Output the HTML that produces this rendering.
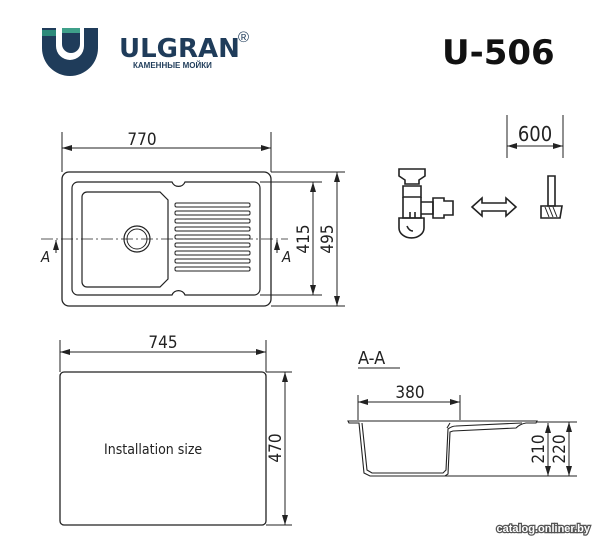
<!DOCTYPE html>
<html><head><meta charset="utf-8"><style>
html,body{margin:0;padding:0;background:#fff;}
svg{display:block;}
text{font-family:"DejaVu Sans Condensed","DejaVu Sans","Liberation Sans",sans-serif;fill:#222;}
</style></head><body>
<svg width="611" height="550" viewBox="0 0 611 550" xmlns="http://www.w3.org/2000/svg">
<defs>
<marker id="ar" viewBox="0 0 10 6" refX="10" refY="3" markerWidth="10" markerHeight="6" orient="auto-start-reverse" markerUnits="userSpaceOnUse">
<path d="M0,0 L10,3 L0,6 z" fill="#222"/></marker>
</defs>
<!-- Logo -->
<path d="M42,28 h14 v18 a14,14 0 0 0 28,0 v-18 h14 v20 a28,28 0 0 1 -56,0z" fill="#1f3c5a"/>
<path d="M42,30 h14 v6 h-14z" fill="#2d8a7a"/>
<path d="M62,28 h18 v16 a9,9 0 0 1 -18,0z" fill="#1f3c5a"/>
<path d="M62,28 h18 v5 h-18z" fill="#3fa08a"/>
<text x="119" y="57" style="font-family:'DejaVu Sans','Liberation Sans',sans-serif;font-weight:bold;font-size:26px;fill:#1f3c5a">ULGRAN</text>
<text x="238" y="42" style="font-family:'Liberation Sans',sans-serif;font-size:15px;fill:#1f3c5a">®</text>
<text x="133" y="68" style="font-family:'Liberation Sans',sans-serif;font-weight:bold;font-size:8px;fill:#1f3c5a">КАМЕННЫЕ МОЙКИ</text>
<text x="442" y="64" style="font-family:'DejaVu Sans','Liberation Sans',sans-serif;font-weight:bold;font-size:34px;fill:#111">U-506</text>

<g fill="none" stroke="#222" stroke-width="1">
<!-- top sink -->
<line x1="62" y1="132" x2="62" y2="172"/><line x1="271" y1="132" x2="271" y2="172"/>
<line x1="62" y1="148" x2="271" y2="148" marker-start="url(#ar)" marker-end="url(#ar)"/>
<rect x="62" y="172" width="209" height="134" rx="7" stroke-width="1.3"/>
<path d="M78,182 H172 A7,7 0 0 0 185,182 H254 A6,6 0 0 1 260,188 V289 A6,6 0 0 1 254,295 H185 A7,7 0 0 0 172,295 H78 A6,6 0 0 1 72,289 V188 A6,6 0 0 1 78,182 Z" stroke-width="1.2"/>
<path d="M87,192 H160 L168,200 V279 L160,287 H87 A5,5 0 0 1 82,282 V197 A5,5 0 0 1 87,192 Z" stroke-width="1.2"/>
<circle cx="137" cy="239" r="13" stroke-width="1.2"/><circle cx="137" cy="239" r="10"/>
<g stroke-width="1">
<rect x="175" y="203" width="75" height="4" rx="1.5"/><rect x="175" y="211" width="75" height="4" rx="1.5"/>
<rect x="175" y="219" width="75" height="4" rx="1.5"/><rect x="175" y="227" width="75" height="4" rx="1.5"/>
<rect x="175" y="235" width="75" height="4" rx="1.5"/><rect x="175" y="243" width="75" height="4" rx="1.5"/>
<rect x="175" y="251" width="75" height="4" rx="1.5"/><rect x="175" y="259" width="75" height="4" rx="1.5"/>
<rect x="175" y="267" width="75" height="4" rx="1.5"/>
</g>
<line x1="41" y1="239" x2="288" y2="239" stroke-dasharray="12,3,2,3" stroke-width="0.8"/>
<line x1="56" y1="253" x2="56" y2="240" marker-end="url(#ar)"/>
<line x1="277" y1="253" x2="277" y2="240" marker-end="url(#ar)"/>
<line x1="260" y1="182" x2="322" y2="182"/><line x1="260" y1="295" x2="322" y2="295"/>
<line x1="313" y1="182" x2="313" y2="295" marker-start="url(#ar)" marker-end="url(#ar)"/>
<line x1="271" y1="172" x2="345" y2="172"/><line x1="271" y1="306" x2="345" y2="306"/>
<line x1="337" y1="172" x2="337" y2="306" marker-start="url(#ar)" marker-end="url(#ar)"/>
<!-- bottom left -->
<line x1="60" y1="340" x2="60" y2="372"/><line x1="266" y1="340" x2="266" y2="372"/>
<line x1="60" y1="352" x2="266" y2="352" marker-start="url(#ar)" marker-end="url(#ar)"/>
<rect x="60" y="372" width="206" height="153" rx="4" stroke-width="1.3"/>
<line x1="266" y1="372" x2="292" y2="372"/><line x1="266" y1="525" x2="292" y2="525"/>
<line x1="285" y1="372" x2="285" y2="525" marker-start="url(#ar)" marker-end="url(#ar)"/>
<!-- 600 -->
<line x1="507" y1="115" x2="507" y2="158"/><line x1="563" y1="115" x2="563" y2="158"/>
<line x1="507" y1="146" x2="563" y2="146" marker-start="url(#ar)" marker-end="url(#ar)"/>
<!-- trap -->
<g stroke-width="1.6">
<path d="M399,169 H425 V176 L419,180 V184 H405 V180 L399,176 Z"/>
<path d="M403,186 H421 V197 H403 Z"/>
<path d="M403,197 V218 H421 V197"/>
<path d="M421,202 H433 V214 H421"/>
<path d="M433,198 H444 V201 H453 V215 H444 V218 H433 Z"/>
<path d="M399,218 H424 V228 A12.5,10 0 0 1 399,228 Z"/>
<path d="M407,226 Q409,231 413,231"/>
<path d="M410,212 V218 M415,212 V218"/>
<!-- double arrow -->
<path d="M472,207 L482,198 V203 H506 V198 L516,207 L506,216 V211 H482 V216 Z"/>
<!-- knife -->
<path d="M548,176 H555 V206 H548 Z"/>
<path d="M541,206 H562 L560,218 H541 Z"/>
<path d="M545,207 L549,217 M549,207 L553,217 M553,207 L557,217" stroke-width="1"/>
</g>
<!-- A-A section -->
<line x1="358" y1="368" x2="400" y2="368"/>
<line x1="358" y1="395" x2="358" y2="420"/><line x1="460" y1="395" x2="460" y2="420"/>
<line x1="358" y1="402" x2="460" y2="402" marker-start="url(#ar)" marker-end="url(#ar)"/>
<g stroke-width="1.1">
<path d="M348,421 H537 L536,423 H526 Q520,424 516,428 L453,431 L450,432 L448,474 L445,476 H370 L364,473 L359,423 H349 Z"/>
<path d="M362,423 L367,470 L372,473 H443 L446,470 L448,429 Q452,426 456,426 L522,423"/>
<path d="M450,423 L447,428"/>
</g>
<line x1="537" y1="422" x2="577" y2="422"/><line x1="445" y1="476" x2="577" y2="476"/>
<line x1="548" y1="423" x2="548" y2="476" marker-start="url(#ar)" marker-end="url(#ar)"/>
<line x1="569" y1="422" x2="569" y2="476" marker-start="url(#ar)" marker-end="url(#ar)"/>
</g>

<text x="142" y="145" font-size="17" text-anchor="middle">770</text>
<text x="41" y="262" font-size="15" font-style="italic">A</text>
<text x="282" y="262" font-size="15" font-style="italic">A</text>
<text transform="translate(309,239) rotate(-90)" font-size="17" text-anchor="middle">415</text>
<text transform="translate(333,239) rotate(-90)" font-size="17" text-anchor="middle">495</text>
<text x="163" y="348" font-size="17" text-anchor="middle">745</text>
<text x="104" y="454" font-size="14">Installation size</text>
<text transform="translate(281,448) rotate(-90)" font-size="17" text-anchor="middle">470</text>
<text x="535" y="141" font-size="20" text-anchor="middle">600</text>
<text x="358" y="364" font-size="18">A-A</text>
<text x="410" y="398" font-size="17" text-anchor="middle">380</text>
<text transform="translate(544,449) rotate(-90)" font-size="17" text-anchor="middle">210</text>
<text transform="translate(565,449) rotate(-90)" font-size="17" text-anchor="middle">220</text>
<text x="590" y="532" font-size="11" text-anchor="end" style="font-family:'Liberation Sans',sans-serif;fill:#fff;stroke:#555;stroke-width:2.5;paint-order:stroke;font-weight:bold">catalog.onliner.by</text>
</svg>
</body></html>
